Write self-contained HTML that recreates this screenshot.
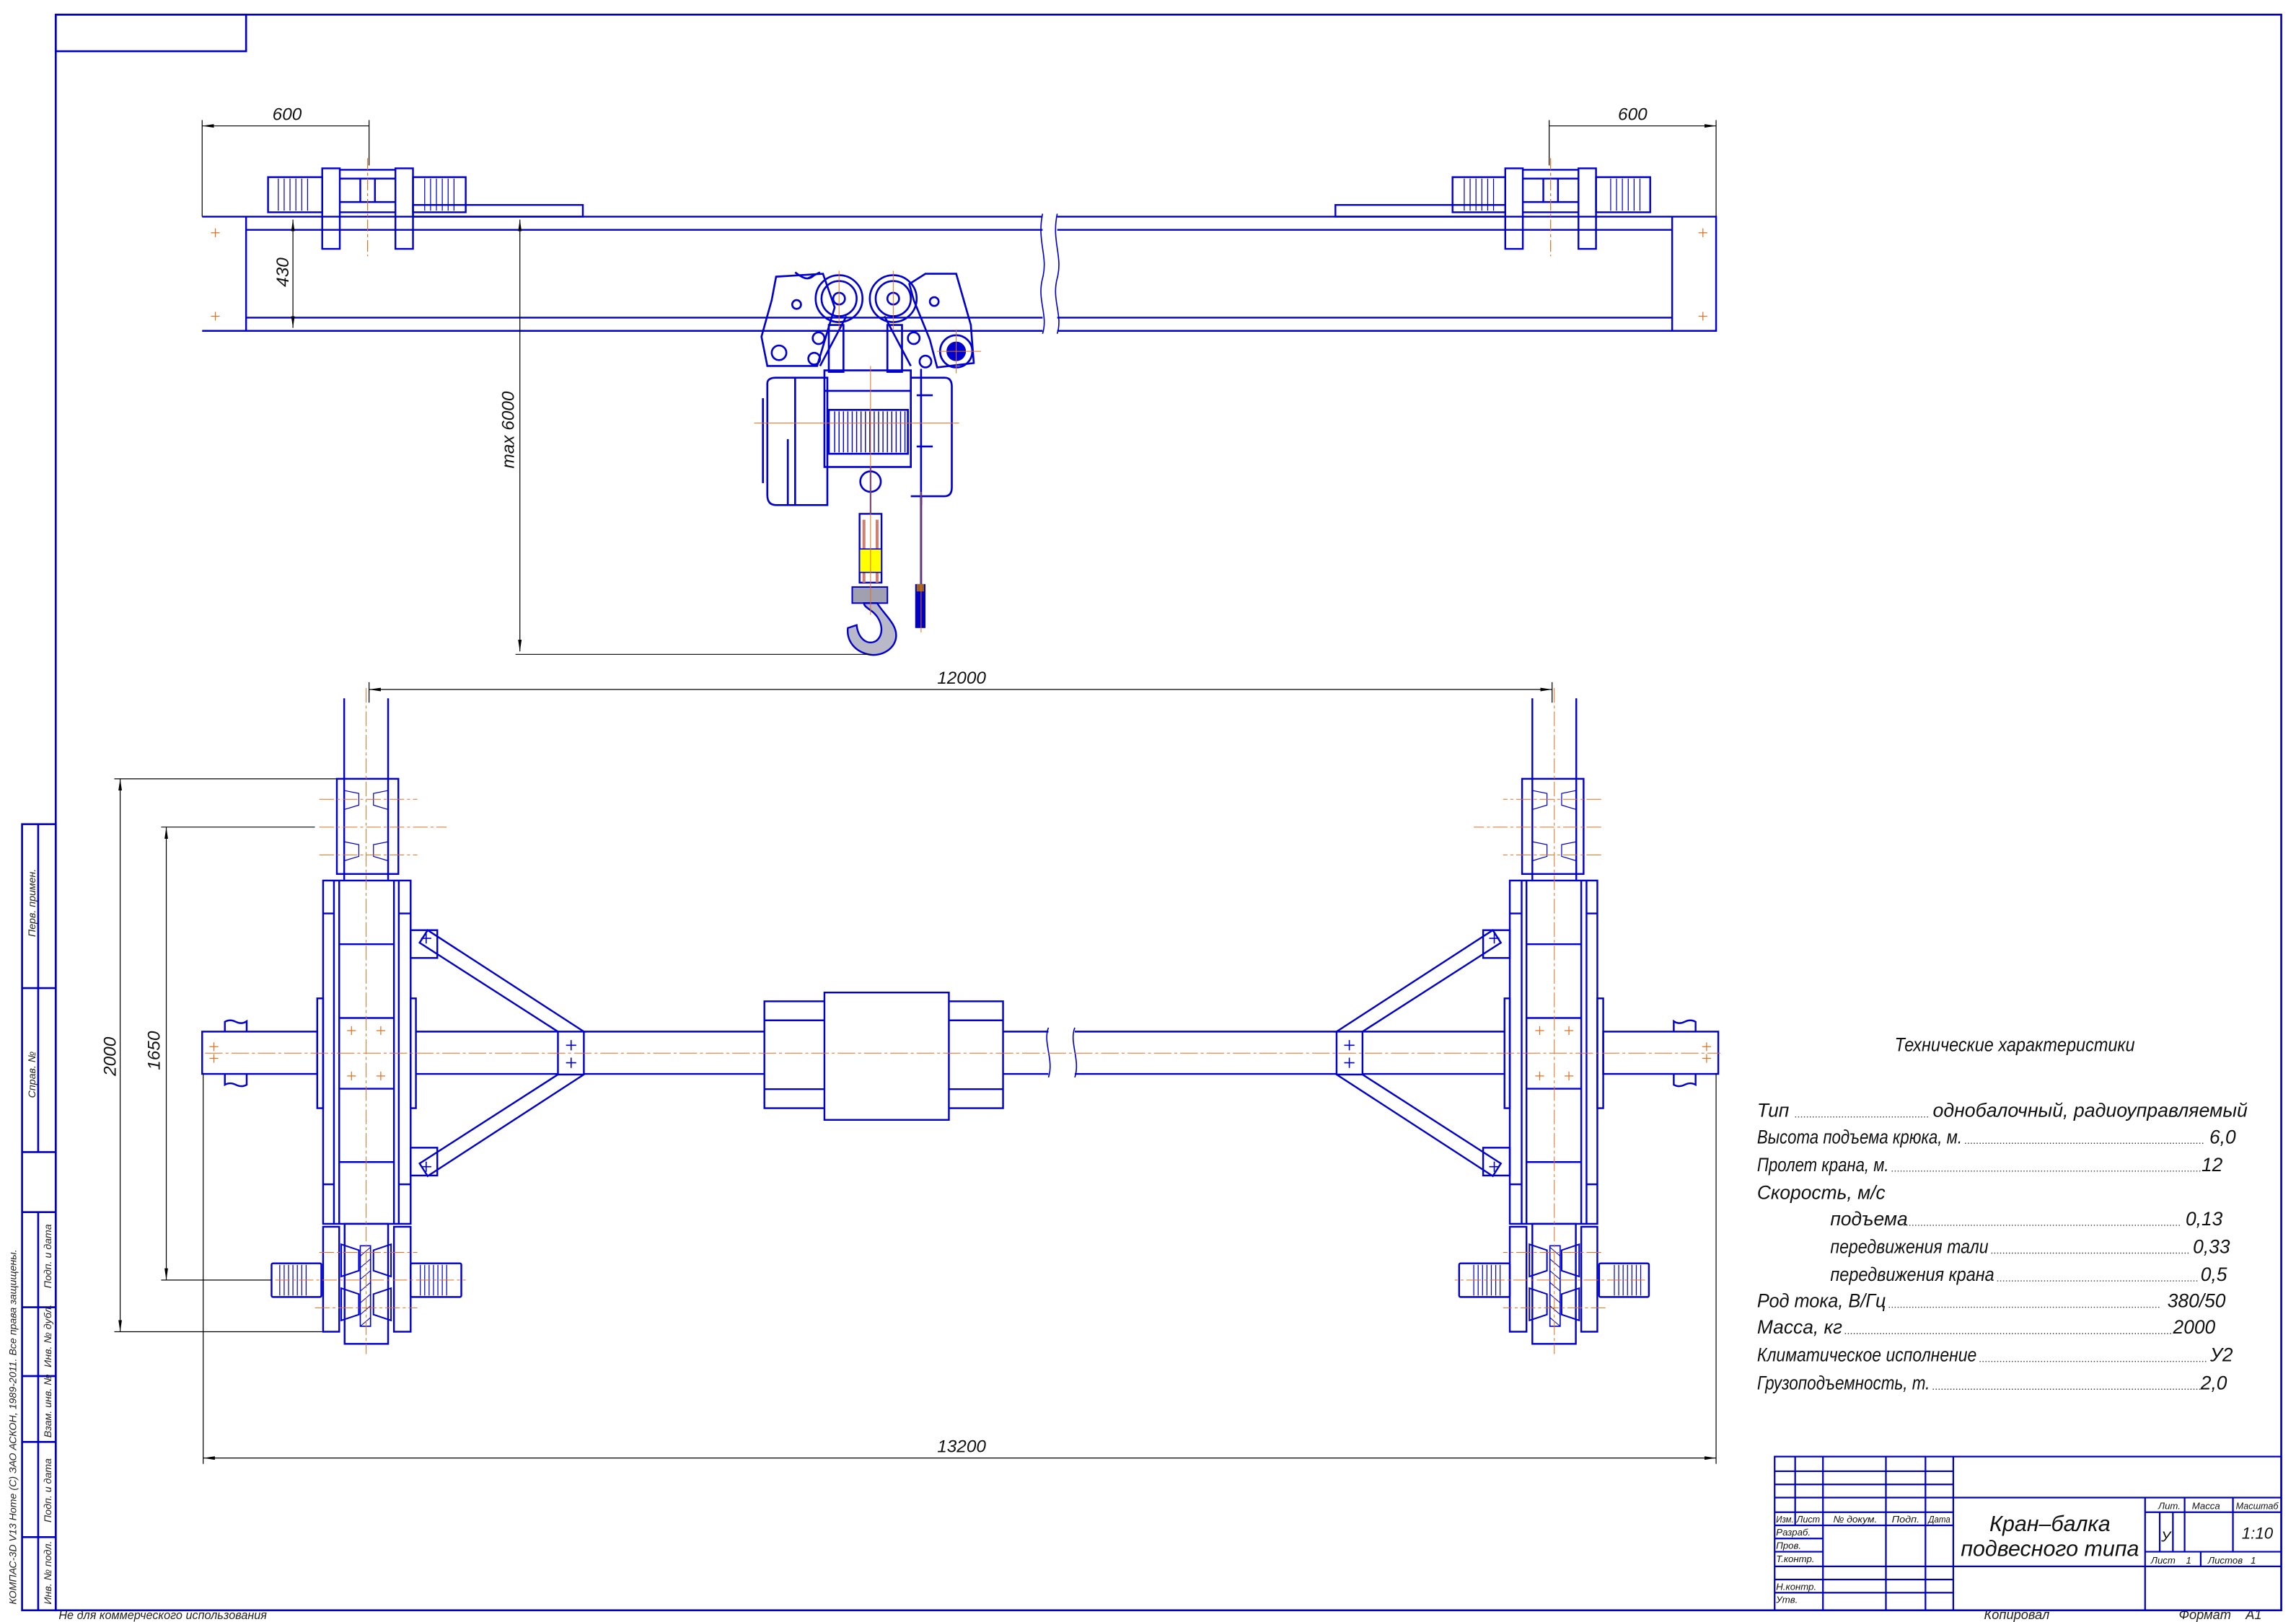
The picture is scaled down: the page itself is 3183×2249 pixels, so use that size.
<!DOCTYPE html>
<html><head><meta charset="utf-8"><style>
html,body{margin:0;padding:0;background:#fff}
svg{display:block}
text{font-family:"Liberation Sans","DejaVu Sans",sans-serif;font-style:italic}
</style></head><body>
<svg xmlns="http://www.w3.org/2000/svg" width="3183" height="2249" viewBox="0 0 1568 1108">
<defs>
<marker id="ar" viewBox="0 0 10 10" refX="10" refY="5" markerWidth="8" markerHeight="8" orient="auto-start-reverse" markerUnits="userSpaceOnUse"><path d="M0,3.5 L10,5 L0,6.5 Z" fill="#000"/></marker>
<g id="cross"><path d="M-3,0H3M0,-3V3" stroke="#e07020" stroke-width="0.6"/></g>
<g id="bcross"><path d="M-3.5,0H3.5M0,-3.5V3.5" stroke="#0000d0" stroke-width="0.8"/></g>
</defs>
<rect width="1568" height="1108" fill="#fff"/>

<!-- FRAME -->
<g fill="none" stroke="#0000c0" stroke-width="1.3">
<rect x="38" y="10" width="1520" height="1090"/>
<rect x="38" y="10" width="130" height="25"/>
<rect x="15" y="563" width="23" height="537"/>
<path d="M26,563V787M15,675H38M15,787H38M15,828H38M26,828V1100M15,893H38M15,940H38M15,985H38M15,1050H38"/>
</g>
<g font-size="7" fill="#222">
<text transform="translate(24,640) rotate(-90)">Перв. примен.</text>
<text transform="translate(24,750) rotate(-90)">Справ. №</text>
<text transform="translate(35,880) rotate(-90)">Подп. и дата</text>
<text transform="translate(35,934) rotate(-90)">Инв. № дубл.</text>
<text transform="translate(35,982) rotate(-90)">Взам. инв. №</text>
<text transform="translate(35,1040) rotate(-90)">Подп. и дата</text>
<text transform="translate(35,1096) rotate(-90)">Инв. № подл.</text>
<text font-size="7" transform="translate(11,1096) rotate(-90)">КОМПАС-3D V13 Home (С) ЗАО АСКОН, 1989-2011. Все права защищены.</text>
<text x="40" y="1106" font-size="8">Не для коммерческого использования</text>
<text x="1355" y="1106" font-size="9">Копировал</text>
<text x="1488" y="1106" font-size="9">Формат&#160;&#160;&#160;&#160;A1</text>
</g>

<!-- TITLE BLOCK -->
<g fill="none" stroke="#0000c0" stroke-width="1.1">
<rect x="1212" y="995" width="346" height="105"/>
<path d="M1212,1005H1334M1212,1014H1334M1212,1023H1558M1212,1033H1334M1212,1042H1334M1212,1051H1245M1212,1060H1245M1212,1070H1558M1212,1079H1334M1212,1088H1334"/>
<path d="M1226,995V1042M1245,995V1100M1288,995V1100M1315,995V1100M1334,995V1100"/>
<path d="M1465,1023V1100M1465,1033H1558M1465,1060H1558M1492,1023V1060M1525,1023V1060M1503,1060V1070M1475,1033V1060M1484,1033V1060"/>
</g>
<g fill="#111" font-size="6.5">
<text x="1213" y="1040" textLength="12" lengthAdjust="spacingAndGlyphs">Изм.</text><text x="1227" y="1040" textLength="16" lengthAdjust="spacingAndGlyphs">Лист</text><text x="1252" y="1040" textLength="30" lengthAdjust="spacingAndGlyphs">№ докум.</text><text x="1292" y="1040" textLength="19" lengthAdjust="spacingAndGlyphs">Подп.</text><text x="1317" y="1040" textLength="15" lengthAdjust="spacingAndGlyphs">Дата</text>
<text x="1213" y="1049">Разраб.</text><text x="1213" y="1058">Пров.</text><text x="1213" y="1067">Т.контр.</text><text x="1213" y="1086">Н.контр.</text><text x="1213" y="1095">Утв.</text>
<text x="1474" y="1031">Лит.</text><text x="1497" y="1031">Масса</text><text x="1527" y="1031" textLength="29" lengthAdjust="spacingAndGlyphs">Масштаб</text>
<text x="1469" y="1068">Лист&#160;&#160;&#160;&#160;1</text><text x="1508" y="1068">Листов&#160;&#160;&#160;1</text>
<text x="1476" y="1053" font-size="10">У</text><text x="1531" y="1051" font-size="11">1:10</text>
<text x="1400" y="1046" font-size="15" text-anchor="middle">Кран–балка</text>
<text x="1400" y="1063" font-size="15" text-anchor="middle">подвесного типа</text>
</g>

<!-- TECH SPEC -->
<g fill="#111" font-size="13">
<text x="1376" y="718" text-anchor="middle" textLength="164" lengthAdjust="spacingAndGlyphs">Технические характеристики</text>
<text x="1200" y="763">Тип</text><text x="1535" y="763" text-anchor="end" textLength="215" lengthAdjust="spacingAndGlyphs">однобалочный, радиоуправляемый</text>
<text x="1200" y="781" textLength="140" lengthAdjust="spacingAndGlyphs">Высота подъема крюка, м.</text><text x="1527" y="781" text-anchor="end">6,0</text>
<text x="1200" y="800" textLength="90" lengthAdjust="spacingAndGlyphs">Пролет крана, м.</text><text x="1518" y="800" text-anchor="end">12</text>
<text x="1200" y="819">Скорость, м/с</text>
<text x="1250" y="837">подъема</text><text x="1518" y="837" text-anchor="end">0,13</text>
<text x="1250" y="856" textLength="108" lengthAdjust="spacingAndGlyphs">передвижения тали</text><text x="1523" y="856" text-anchor="end">0,33</text>
<text x="1250" y="875" textLength="112" lengthAdjust="spacingAndGlyphs">передвижения крана</text><text x="1521" y="875" text-anchor="end">0,5</text>
<text x="1200" y="893" textLength="88" lengthAdjust="spacingAndGlyphs">Род тока, В/Гц</text><text x="1520" y="893" text-anchor="end">380/50</text>
<text x="1200" y="911">Масса, кг</text><text x="1513" y="911" text-anchor="end">2000</text>
<text x="1200" y="930" textLength="150" lengthAdjust="spacingAndGlyphs">Климатическое исполнение</text><text x="1525" y="930" text-anchor="end">У2</text>
<text x="1200" y="949" textLength="118" lengthAdjust="spacingAndGlyphs">Грузоподъемность, т.</text><text x="1521" y="949" text-anchor="end">2,0</text>
</g>
<g stroke="#333" stroke-width="0.7" stroke-dasharray="0.7 1.3">
<path d="M1226,763H1318M1342,781H1505M1292,800H1503M1300,837H1490M1360,856H1496M1364,875H1502M1290,893H1476M1260,911H1484M1352,930H1508M1320,949H1503"/>
</g>

<!-- ===== TOP ELEVATION ===== -->
<g fill="none" stroke="#0000d0" stroke-width="1.2">
<path d="M138,148H712M722,148H1172V226H722M712,226H138Z"/>
<path d="M168,148V226M1142,148V226M168,157H712M722,157H1142M168,217H712M722,217H1142"/>
<path d="M712,146 C708,165 716,175 712,190 C708,205 716,215 712,228 M722,146 C718,165 726,175 722,190 C718,205 726,215 722,228" stroke-width="0.8"/>
<g id="ec">
<rect x="183" y="121" width="37" height="24"/>
<path d="M190,122V144M194,122V144M198,122V144M202,122V144M206,122V144M210,122V144" stroke-width="0.6"/>
<rect x="220" y="115" width="12" height="55"/>
<rect x="270" y="115" width="12" height="55"/>
<path d="M232,116H270M232,122H270M246,122V138M256,122V138M232,138H270M232,145H270" />
<rect x="282" y="121" width="36" height="24"/>
<path d="M290,122V144M294,122V144M298,122V144M302,122V144M306,122V144M310,122V144" stroke-width="0.6"/>
<rect x="282" y="140" width="116" height="8"/>
</g>
<use href="#ec" transform="translate(1310,0) scale(-1,1)"/>
</g>
<g stroke="#e07020" stroke-width="0.6" stroke-dasharray="8 2 2 2">
<path d="M251,108V175M1059,108V175"/>
</g>
<use href="#cross" x="147" y="159"/><use href="#cross" x="147" y="216"/>
<use href="#cross" x="1163" y="159"/><use href="#cross" x="1163" y="216"/>

<!-- HOIST -->
<g fill="none" stroke="#0000d0" stroke-width="1.3">
<path d="M530,189 L562,187 L570,210 L558,250 L524,250 L520,230 L527,205 Z"/>
<path d="M621,194 L632,187 L653,187 L663,222 L665,248 L640,251 L635,232 L624,205 Z"/>
<circle cx="573" cy="204" r="16"/><circle cx="573" cy="204" r="12"/><circle cx="573" cy="204" r="4"/>
<circle cx="610" cy="204" r="16"/><circle cx="610" cy="204" r="12"/><circle cx="610" cy="204" r="4"/>
<circle cx="653" cy="240" r="11"/><circle cx="653" cy="240" r="6" fill="#0000d0"/>
<circle cx="544" cy="208" r="3"/><circle cx="638" cy="206" r="3"/><circle cx="532" cy="241" r="5"/><circle cx="556" cy="245" r="4"/><circle cx="559" cy="231" r="4"/><circle cx="624" cy="231" r="4"/><circle cx="632" cy="247" r="4"/>
<path d="M543,186 C548,190 552,192 556,188 M552,190 L560,186"/>
<path d="M578,216 L560,250 M604,216 L622,250"/>
<rect x="566" y="222" width="10" height="32"/><rect x="606" y="222" width="10" height="32"/>
<rect x="563" y="253" width="59" height="66"/>
<path d="M566,280H620V310H566Z M563,267H622"/>
<path d="M570,281V309M573,281V309M576,281V309M579,281V309M582,281V309M585,281V309M588,281V309M591,281V309M594,281V309M597,281V309M600,281V309M603,281V309M606,281V309M609,281V309M612,281V309M615,281V309M618,281V309" stroke-width="0.7"/>
<path d="M524,262 Q524,258 530,258 H565 V345 H530 Q524,345 524,338 Z"/>
<path d="M521,272V330 M538,300V345 M543,258V345"/>
<path d="M622,258 H645 Q650,258 650,264 V333 Q650,339 645,339 H622"/>
<path d="M629,252V345 M626,270H637M626,305H637"/>
<path d="M594.5,319V374" stroke-width="1"/>
<circle cx="594.5" cy="329" r="7"/>
</g>
<rect x="587" y="351" width="15" height="47" fill="#fff" stroke="#0000d0" stroke-width="1.2"/>
<path d="M590,355V398M599,355V398" stroke="#d08070" stroke-width="2"/>
<rect x="587" y="375" width="15" height="16" fill="#ffff00" stroke="#0000d0" stroke-width="0.8"/>
<rect x="582" y="401" width="24" height="11" fill="#a0a0b0" stroke="#0000d0" stroke-width="1"/>
<path d="M590,412 L599,412 C604,420 612,426 612,434 C612,443 602,449 593,447 C584,445 578,438 579,429 L585,427 C586,436 592,441 598,438 C604,434 603,424 596,418 C592,415 590,414 590,412 Z" fill="#b8b8c8" stroke="#0000d0" stroke-width="1.2"/>
<path d="M629,339V400" stroke="#0000d0" stroke-width="1.4"/>
<rect x="625" y="399" width="7" height="30" fill="#0000c0"/>
<rect x="626" y="399" width="5" height="5" fill="#a06020"/>
<g stroke="#e07020" stroke-width="0.5">
<path d="M515,289H655M594.5,250V420M629,336V432M573,185V225M610,185V225M640,240H670M653,225V255"/>
</g>

<!-- Top dimensions -->
<g stroke="#000" stroke-width="0.6" fill="none">
<path d="M138,82V148M252,82V113M1058,82V113M1172,82V148"/>
<path d="M138,86H252M1058,86H1172" marker-start="url(#ar)" marker-end="url(#ar)"/>
<path d="M200,150V224" marker-start="url(#ar)" marker-end="url(#ar)"/>
<path d="M355,150V445" marker-start="url(#ar)" marker-end="url(#ar)"/>
<path d="M352,447H595"/>
</g>
<g font-size="12" fill="#111">
<text x="186" y="82">600</text><text x="1105" y="82">600</text>
<text transform="translate(197,196) rotate(-90)">430</text>
<text transform="translate(351,320) rotate(-90)">max 6000</text>
</g>

<!-- ===== PLAN VIEW ===== -->
<g id="leftplan" fill="none" stroke="#0000d0" stroke-width="1.2">
<path d="M235,477V601M265,477V601"/>
<rect x="230" y="532" width="42" height="65"/>
<path d="M235,532V597M265,532V597" stroke-dasharray="3 2" stroke-width="0.7"/>
<path d="M235,540 L245,542 L245,550 L235,553 M265,540 L255,542 L255,550 L265,553 M235,575 L245,577 L245,585 L235,588 M265,575 L255,577 L255,585 L265,588" stroke-width="0.6"/>
<rect x="220.6" y="601.5" width="59.8" height="234.5"/>
<path d="M228,601.5V836M231.6,601.5V836M269,601.5V836M272.3,601.5V836"/>
<path d="M231.6,645H269M231.6,695.4H269M231.6,743.7H269M231.6,793.8H269M220.6,624H228M220.6,809H228M272.3,624H280.4M272.3,809H280.4"/>
<rect x="216.6" y="682" width="4" height="75"/><rect x="280.4" y="682" width="3.6" height="75"/>
<rect x="138" y="704.7" width="78.6" height="28.9"/>
<path d="M153.5,704.7V698 Q157,696 161,698 Q165,700 168.4,697.6 V704.7 M153.5,733.6V741 Q157,739 161,741 Q165,743 168.4,741 V733.6"/>
<path d="M284,704.7H381V733.6H284 M381,704.7V733.6"/>
<path d="M286.5,644 L292,635.4 L398.7,704.7 L381,704.7 Z"/>
<path d="M286.5,794.8 L292,803.4 L398.7,734 L381,734 Z"/>
<path d="M398.7,704.7V734"/>
<rect x="280.4" y="635.4" width="18.2" height="19"/><rect x="280.4" y="784" width="18.2" height="19"/>
<rect x="220.6" y="838" width="11" height="71.7"/><rect x="269" y="838" width="11.4" height="71.7"/>
<rect x="235.3" y="836" width="29.7" height="82"/>
<path d="M233,850 L245,854 L245,868 L233,872 Z M267,850 L255,854 L255,868 L267,872 Z M233,880 L245,884 L245,898 L233,902 Z M267,880 L255,884 L255,898 L267,902 Z" stroke-width="1"/>
<rect x="246" y="851" width="7" height="55" stroke-width="0.8"/>
<path d="M246,858 L253,852 M246,866 L253,860 M246,874 L253,868 M246,882 L253,876 M246,890 L253,884 M246,898 L253,892 M246,906 L253,900" stroke-width="0.5"/>
<rect x="185.4" y="863" width="34" height="23" rx="1"/>
<path d="M191,864V885M194,864V885M197,864V885M200,864V885M203,864V885M206,864V885M209,864V885" stroke-width="0.6"/>
<rect x="280.4" y="863" width="34.6" height="23" rx="1"/>
<path d="M287,864V885M290,864V885M293,864V885M296,864V885M299,864V885M302,864V885M305,864V885" stroke-width="0.6"/>
</g>
<g id="leftor">
<g stroke="#e07020" stroke-width="0.5" stroke-dasharray="10 2 2 2">
<path d="M250,470V925 M218,546H285M218,565H305M218,584H285M218,855.5H285M188,874.4H318M215,893.4H285"/>
</g>
<use href="#cross" x="146" y="723"/><use href="#cross" x="146" y="715"/>
<use href="#cross" x="240" y="704"/><use href="#cross" x="260" y="704"/><use href="#cross" x="240" y="735"/><use href="#cross" x="260" y="735"/>
<use href="#bcross" x="291" y="641"/><use href="#bcross" x="291" y="797"/><use href="#bcross" x="390" y="714"/><use href="#bcross" x="390" y="726"/>
</g>

<use href="#leftplan" transform="translate(1311.5,0) scale(-1,1)"/>
<use href="#leftor" transform="translate(1311.5,0) scale(-1,1)"/>

<!-- main beam in plan -->
<g fill="none" stroke="#0000d0" stroke-width="1.2">
<path d="M398.7,704.7H716M398.7,733.6H716M734,704.7H912.8M734,733.6H912.8"/>
<path d="M716,702 C712,712 720,724 716,736 M734,702 C730,712 738,724 734,736" stroke-width="0.8"/>
<rect x="522" y="684" width="163" height="73" fill="#fff"/>
<rect x="563" y="678" width="85" height="87" fill="#fff"/>
<path d="M522,697H563M522,744H563M648,697H685M648,744H685"/>
</g>
<path d="M140,719.4H1175" stroke="#e07020" stroke-width="0.5" stroke-dasharray="12 2 2 2"/>

<!-- plan dimensions -->
<g stroke="#000" stroke-width="0.6" fill="none">
<path d="M252,466V480M1060,466V480"/>
<path d="M252,471H1060" marker-start="url(#ar)" marker-end="url(#ar)"/>
<path d="M138.7,733V1000M1172,733V1000"/>
<path d="M138.7,996H1172" marker-start="url(#ar)" marker-end="url(#ar)"/>
<path d="M78,532H230M78,909.7H220M110,565H215M110,874.4H185"/>
<path d="M82,532V909.7" marker-start="url(#ar)" marker-end="url(#ar)"/>
<path d="M113.5,565V874.4" marker-start="url(#ar)" marker-end="url(#ar)"/>
</g>
<g font-size="12" fill="#111">
<text x="640" y="467">12000</text>
<text x="640" y="992">13200</text>
<text transform="translate(79,735) rotate(-90)">2000</text>
<text transform="translate(109,731) rotate(-90)">1650</text>
</g>
</svg>
</body></html>
